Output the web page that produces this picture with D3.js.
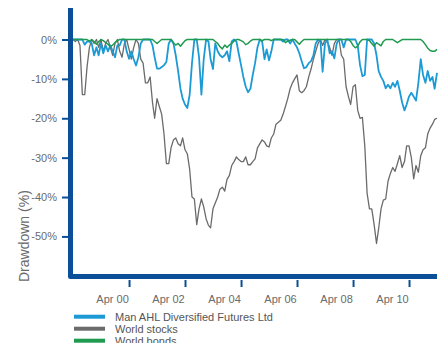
<!DOCTYPE html>
<html>
<head>
<meta charset="utf-8">
<script src="https://cdn.jsdelivr.net/npm/d3@7/dist/d3.min.js"></script>
<style>
  html, body { margin: 0; padding: 0; background: #fff; }
  svg { display: block; }
  text { font-family: "Liberation Sans", Arial, sans-serif; }
</style>
</head>
<body>
<svg id="chart" width="445" height="343"></svg>
<script>
// Monthly drawdowns (%) from April 1998 to April 2011
const startMonth = new Date(1998, 3, 1);
const endMonth = new Date(2011, 3, 1);

const ahlDrawdown = [
  0, 0, 0, 0, 0, -1.3, -0.5, -0.5, -1, -4,
  -2, -4, -1, -3.5, -1.5, -3, -1.5, -3, -4.5, -1.5,
  -1.5, 0, 0, -3, -4.9, -3, -5, -6.6, -4.5, -1,
  0, 0, 0, 0, -1.5, -4.5, -7.4, -7.4, -7, -6.5,
  -5.7, -1, 0, -1, -4, -8, -12.5, -15, -16.5, -17.4,
  -14, -6, 0, 0, -4.5, -14, -5, 0, -0.5, -5,
  -7.5, -1, -3, -4, -4.5, -4, -3, -5.5, -0.5, 0,
  -0.5, -3.5, -6.5, -9.5, -12, -13.4, -12.5, -9, -6, -2,
  0, -0.5, -5, -2.5, -5.3, -3, 0, 0, 0, 0,
  -0.5, 0, 0, -1, 0, -1, -2, -3.5, -5.5, -7.3,
  -7, -6, -5.5, -4, -1, 0, -0.5, -8.2, -1, 0,
  -3.5, -3, -4.8, -1, 0, 0, -2, 0, 0, 0,
  0, 0, -1.5, -6.5, -9.3, -9, 0, 0, 0, -1,
  -4, -8, -9.5, -10.5, -12.4, -11.5, -12.4, -11, -12, -10.5,
  -13, -16, -18, -16.5, -14.5, -13.5, -14.5, -15.5, -11, -5,
  -9, -11, -8, -10.5, -9.5, -12.5, -8.5
];

const stocksDrawdown = [
  0, -0.5, 0, -1.5, -14, -14, -7, -2, 0, -1,
  0, -2, 0, -3, -1, 0, -2, -4, -1, 0,
  -3, -4.5, -1, 0, -2.5, -5, -2, 0, -1, -5,
  -6, -11, -11, -9.5, -16, -20, -15, -17, -19, -24,
  -31.5, -31.5, -27.5, -25.5, -25, -26.5, -27, -25, -28, -29,
  -33, -40, -40.5, -47, -43, -40.5, -42.5, -45.5, -47.2, -47.8,
  -43, -41.5, -40, -38, -37.5, -38.5, -35.5, -34.5, -32, -31,
  -29.8, -30.5, -31, -31, -29.8, -31.8, -31.8, -31, -30.3, -27.5,
  -26.5, -25.5, -26, -27, -27.3, -25, -24, -21.5, -21, -20.5,
  -19, -17, -15, -12.5, -11, -10, -9, -13, -13.5, -13,
  -12, -9.5, -7.5, -5, -3, -1, 0, -1.5, 0, -0.5,
  -2, -4, -1, 0, 0, -4, -5, -12, -14.5, -16.5,
  -12, -11.5, -18, -20, -19.8, -27, -39, -43, -43, -47,
  -51.8, -48, -43, -40.8, -40.5, -36, -34, -32.5, -33.5, -31.5,
  -29.5, -32.5, -31, -27, -27, -30, -35.4, -32, -33.7, -29.5,
  -28, -27.5, -24, -22.5, -21.5, -20.3, -20
];

const bondsDrawdown = [
  0, 0, 0, 0, 0, 0, 0, -0.4, 0, -0.5,
  -1.2, -0.6, 0, -0.3, -0.8, -1.2, -1.8, -1.4, -0.8, -0.3,
  0, 0, 0, 0, 0, 0, 0, 0, 0, 0,
  0, 0, 0, 0, 0, -0.5, -1, -0.5, 0, 0,
  0, 0, 0, -0.8, -1.4, -1.0, -1.7, -1.0, -0.3, 0,
  0, 0, 0, 0, 0, 0, 0, 0, 0, 0,
  0, -0.5, -1, -1.8, -2.4, -1.4, -2.0, -1.4, -1.0, -0.4,
  0, 0, -0.3, -0.6, -1.3, -1.0, -0.4, 0, 0, 0,
  0, -0.3, 0, 0, 0, -0.3, 0, 0, 0, 0,
  0, -0.8, -0.4, -0.2, 0, 0, -0.6, -1.2, -0.5, 0,
  0, 0, 0, 0, 0, 0, 0, 0, 0, 0,
  0, 0, 0, 0, 0, 0, 0, 0, 0, -0.5,
  -1.5, -2.1, -1.7, -0.6, 0, 0, 0, -0.3, -1.0, -1.7,
  -0.8, -1.2, -1.6, -0.5, 0, 0, 0, 0, -0.4, -0.8,
  -0.4, 0, 0, 0, 0, 0, 0, 0, 0, 0,
  -0.5, -1.3, -2.2, -2.8, -3.0, -3.0, -2.5
];

const yTicks = [0, -10, -20, -30, -40, -50];
const xTicks = [
  new Date(2000, 3, 1), new Date(2002, 3, 1), new Date(2004, 3, 1),
  new Date(2006, 3, 1), new Date(2008, 3, 1), new Date(2010, 3, 1)
];

const seriesNames = ["Man AHL Diversified Futures Ltd", "World stocks", "World bonds"];
const seriesColors = ["#1b9ad6", "#6b6b6b", "#1f9a4f"];

const axisColor = "#0b4f98";
const textColor = "#6a6a6a";

const svg = d3.select("#chart");

const x = d3.scaleTime().domain([startMonth, endMonth]).range([73, 437]);
const y = d3.scaleLinear().domain([-60, 8]).range([275.8, 8]);

const months = ahlDrawdown.map((_, i) => d3.timeMonth.offset(startMonth, i));

const line = d3.line()
  .x((d, i) => x(months[i]))
  .y(d => y(d))
  .curve(d3.curveLinear);

// Lines: stocks underneath, then AHL, then bonds on top
const plot = svg.append("g");
plot.append("path").datum(stocksDrawdown)
  .attr("d", line).attr("fill", "none")
  .attr("stroke", seriesColors[1]).attr("stroke-width", 1.3)
  .attr("stroke-linejoin", "round");
plot.append("path").datum(ahlDrawdown)
  .attr("d", line).attr("fill", "none")
  .attr("stroke", seriesColors[0]).attr("stroke-width", 1.8)
  .attr("stroke-linejoin", "round");
plot.append("path").datum(bondsDrawdown)
  .attr("d", line).attr("fill", "none")
  .attr("stroke", seriesColors[2]).attr("stroke-width", 1.5)
  .attr("stroke-linejoin", "round");

// Y axis ticks and labels
const yAxis = d3.axisLeft(y).tickValues(yTicks).tickSize(6).tickPadding(5)
  .tickFormat(d => `${d}%`);
const yG = svg.append("g").attr("transform", "translate(68,0)").call(yAxis);
yG.select(".domain").remove();
yG.selectAll(".tick line").attr("stroke", axisColor).attr("stroke-width", 2);
yG.selectAll(".tick text")
  .attr("fill", textColor).attr("font-size", 11)
  .attr("font-family", "Liberation Sans, Arial, sans-serif");

// X axis ticks and labels
const xAxis = d3.axisBottom(x).tickValues(xTicks).tickSize(7).tickPadding(6)
  .tickFormat(d3.timeFormat("%b %y"));
const xG = svg.append("g").attr("transform", "translate(0,280)").call(xAxis);
xG.select(".domain").remove();
xG.selectAll(".tick line").attr("stroke", axisColor).attr("stroke-width", 2);
xG.selectAll(".tick text")
  .attr("fill", textColor).attr("font-size", 11)
  .attr("font-family", "Liberation Sans, Arial, sans-serif")
  .attr("dx", -17).attr("dy", "0.95em");

// Heavy L-shaped frame
svg.append("path")
  .attr("d", `M70.5,${y(8)} L70.5,${y(-60) + 0.7} L${x(endMonth)},${y(-60) + 0.7}`)
  .attr("fill", "none").attr("stroke", axisColor).attr("stroke-width", 5)
  .attr("stroke-linejoin", "round");

// Y axis title
svg.append("text")
  .attr("transform", "translate(29,282) rotate(-90)")
  .attr("text-anchor", "start")
  .attr("fill", textColor).attr("font-size", 14)
  .text("Drawdown (%)");

// Legend
const legend = svg.append("g");
seriesNames.forEach((name, i) => {
  const ly = 316.7 + i * 12;
  legend.append("line")
    .attr("x1", 74).attr("x2", 105).attr("y1", ly).attr("y2", ly)
    .attr("stroke", seriesColors[i]).attr("stroke-width", 4);
  legend.append("text")
    .attr("x", 115).attr("y", ly).attr("dy", "0.35em")
    .attr("fill", "#555555").attr("font-size", 11)
    .text(name);
});
</script>
</body>
</html>
